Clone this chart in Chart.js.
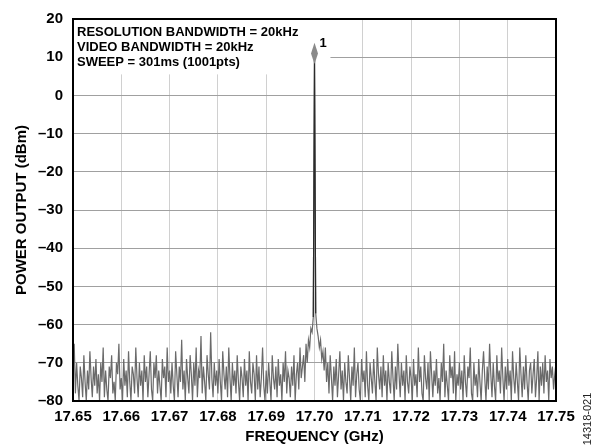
<!DOCTYPE html>
<html>
<head>
<meta charset="utf-8">
<script src="https://cdn.jsdelivr.net/npm/chart.js@4.4.0/dist/chart.umd.min.js"></script>
<style>
  html, body { margin: 0; padding: 0; background: #fff; }
  canvas { display: block; }
</style>
</head>
<body>
<canvas id="myChart" width="597" height="448"></canvas>
<script>
// sweep: 17.65 GHz to 17.75 GHz, one reading every 0.25 MHz
const freqStart = 17.65;
const freqStep = 0.00025;

// power readings (dBm)
const noiseBelow = [
    -72, -65, -78, -70, -76, -80, -71, -74, -79, -68, -75, -80, -72, -77, -67, -74, -79, -71, -76, -69,
    -78, -73, -80, -70, -75, -66, -79, -72, -77, -80, -71, -74, -68, -78, -75, -80, -70, -73, -65, -77,
    -74, -80, -69, -76, -72, -79, -67, -75, -80, -71, -73, -78, -66, -74, -79, -70, -76, -72, -80, -68,
    -75, -71, -79, -73, -67, -77, -80, -70, -74, -68, -78, -72, -76, -80, -69, -74, -71, -79, -66, -75,
    -72, -78, -70, -76, -80, -67, -73, -79, -71, -75, -64, -77, -72, -80, -69, -74, -78, -68, -73, -80,
    -70, -76, -66, -79, -72, -74, -63, -78, -71, -75, -80, -68, -73, -77, -62, -74, -79, -70, -76, -72,
    -78, -69, -75, -80, -67, -73, -77, -71, -79, -66, -74, -80, -70, -76, -72, -78, -68, -75, -80, -71,
    -74, -79, -69, -76, -72, -80, -67, -75, -78, -70, -73, -80, -68, -77, -71, -79, -74, -66, -76, -80,
    -72, -78, -70, -75, -80, -68, -74, -77, -71, -79, -69, -76, -73, -80, -70, -75, -67, -78, -72, -74,
    -79, -71, -76, -68, -80, -73, -70, -77, -66, -74, -71, -68, -75, -65, -70, -64, -66, -61, -62, -58
];
const carrier = [10];
const noiseAbove = [
    -57, -61, -63, -66, -64, -69, -67, -72, -66, -75, -70, -78, -68, -74, -80, -71, -76, -69, -79, -73,
    -67, -77, -72, -80, -70, -75, -78, -68, -74, -80, -71, -76, -66, -79, -73, -70, -77, -80, -69, -75,
    -72, -79, -67, -76, -80, -70, -74, -78, -69, -75, -80, -66, -73, -77, -71, -79, -68, -76, -72, -80,
    -70, -75, -78, -67, -74, -80, -71, -77, -65, -73, -79, -70, -76, -72, -80, -68, -75, -78, -71, -74,
    -80, -69, -76, -73, -79, -66, -75, -71, -78, -80, -68, -74, -77, -70, -80, -67, -73, -79, -72, -76,
    -69, -78, -74, -80, -70, -75, -65, -79, -72, -76, -80, -68, -74, -71, -78, -67, -80, -73, -76, -70,
    -77, -72, -80, -68, -75, -79, -71, -74, -66, -78, -80, -70, -76, -73, -79, -69, -75, -80, -72, -67,
    -74, -80, -71, -77, -65, -73, -79, -70, -76, -80, -68, -75, -72, -78, -66, -74, -80, -71, -77, -69,
    -76, -72, -80, -67, -74, -78, -70, -75, -80, -66, -73, -79, -71, -77, -68, -75, -80, -72, -70, -78,
    -73, -69, -79, -74, -67, -80, -71, -76, -70, -78, -68, -75, -72, -80, -69, -74, -71, -77, -73, -70
];

const xTicks = [17.65, 17.66, 17.67, 17.68, 17.69, 17.70, 17.71, 17.72, 17.73, 17.74, 17.75];
const yTicks = [20, 10, 0, -10, -20, -30, -40, -50, -60, -70, -80];

const infoLines = [
    'RESOLUTION BANDWIDTH = 20kHz',
    'VIDEO BANDWIDTH = 20kHz',
    'SWEEP = 301ms (1001pts)'
];
const markerFreq = 17.70;
const markerLabel = '1';
const figureId = '14318-021';

const power = noiseBelow.concat(carrier, noiseAbove);
const points = power.map((v, i) => ({ x: freqStart + i * freqStep, y: v }));
// the carrier and its two neighbours, redrawn darker on top
const peakAt = noiseBelow.length;
const peakPoints = points.slice(peakAt - 1, peakAt + 2);

const fmtY = v => (v < 0 ? '\u2013' + Math.abs(v) : String(v));

const boldFont = size => ({ family: 'Arial, "Liberation Sans", sans-serif', size: size, weight: 'bold' });

// white info box under the settings text, drawn before the trace
const infoBox = {
    id: 'infoBox',
    beforeDatasetsDraw(chart) {
        const { ctx, chartArea, scales: { x, y } } = chart;
        const right = x.getPixelForValue(17.7033);
        const bottom = y.getPixelForValue(5.5);
        ctx.save();
        ctx.fillStyle = '#fff';
        ctx.fillRect(chartArea.left, chartArea.top, right - chartArea.left, bottom - chartArea.top);
        ctx.restore();
    },
    afterDraw(chart) {
        const { ctx, chartArea, scales: { x, y } } = chart;
        ctx.save();

        // frame
        ctx.strokeStyle = '#000';
        ctx.lineWidth = 2;
        ctx.strokeRect(chartArea.left, chartArea.top, chartArea.right - chartArea.left, chartArea.bottom - chartArea.top);

        // settings text
        ctx.fillStyle = '#000';
        ctx.font = 'bold 13px Arial, "Liberation Sans", sans-serif';
        ctx.textBaseline = 'middle';
        ctx.textAlign = 'left';
        infoLines.forEach((t, i) => ctx.fillText(t, chartArea.left + 4, chartArea.top + 13 + i * 15));

        // marker 1
        const mx = x.getPixelForValue(markerFreq);
        const top = y.getPixelForValue(13.8);
        const mid = y.getPixelForValue(11);
        const bot = y.getPixelForValue(8.2);
        ctx.fillStyle = '#8a8a8a';
        ctx.beginPath();
        ctx.moveTo(mx, top);
        ctx.lineTo(mx + 3.5, mid);
        ctx.lineTo(mx, bot);
        ctx.lineTo(mx - 3.5, mid);
        ctx.closePath();
        ctx.fill();
        ctx.fillStyle = '#000';
        ctx.fillText(markerLabel, mx + 5, y.getPixelForValue(13.5));

        // figure number
        ctx.font = '11px Arial, "Liberation Sans", sans-serif';
        ctx.fillStyle = '#222';
        ctx.translate(588, 419);
        ctx.rotate(-Math.PI / 2);
        ctx.textAlign = 'center';
        ctx.fillText(figureId, 0, 0);
        ctx.restore();
    }
};

const ctx = document.getElementById('myChart');

let newChart = new Chart(ctx, {
    type: 'line',
    data: {
        datasets: [{
            data: peakPoints,
            borderColor: '#2a2a2a',
            borderWidth: 1.2,
            pointRadius: 0,
            tension: 0,
            fill: false,
            order: 0
        }, {
            data: points,
            borderColor: '#6a6a6a',
            borderWidth: 1.2,
            pointRadius: 0,
            tension: 0,
            fill: false,
            order: 1
        }]
    },
    options: {
        responsive: false,
        animation: false,
        layout: { padding: { left: 0, top: 16, right: 41, bottom: 0 } },
        plugins: {
            legend: { display: false },
            tooltip: { enabled: false }
        },
        scales: {
            x: {
                type: 'linear',
                min: 17.65,
                max: 17.75,
                afterBuildTicks: s => { s.ticks = xTicks.map(v => ({ value: v })); },
                afterFit: s => { s.height = 47; },
                ticks: {
                    color: '#000',
                    font: boldFont(15),
                    padding: 7,
                    maxRotation: 0,
                    autoSkip: false,
                    callback: v => v.toFixed(2)
                },
                grid: { color: '#d0d0d0', lineWidth: 1, drawTicks: false },
                border: { display: false },
                title: {
                    display: true,
                    text: 'FREQUENCY (GHz)',
                    color: '#000',
                    font: boldFont(15),
                    padding: { top: 0, bottom: 2 }
                }
            },
            y: {
                min: -80,
                max: 20,
                afterBuildTicks: s => { s.ticks = yTicks.map(v => ({ value: v })); },
                afterFit: s => { s.width = 73; },
                ticks: {
                    color: '#000',
                    font: boldFont(15),
                    padding: 10,
                    autoSkip: false,
                    callback: v => fmtY(v)
                },
                grid: { color: '#a0a0a0', lineWidth: 1, drawTicks: false },
                border: { display: false },
                title: {
                    display: true,
                    text: 'POWER OUTPUT (dBm)',
                    color: '#000',
                    font: boldFont(15),
                    padding: { top: 13, bottom: 0 }
                }
            }
        }
    },
    plugins: [infoBox]
});
</script>
</body>
</html>
